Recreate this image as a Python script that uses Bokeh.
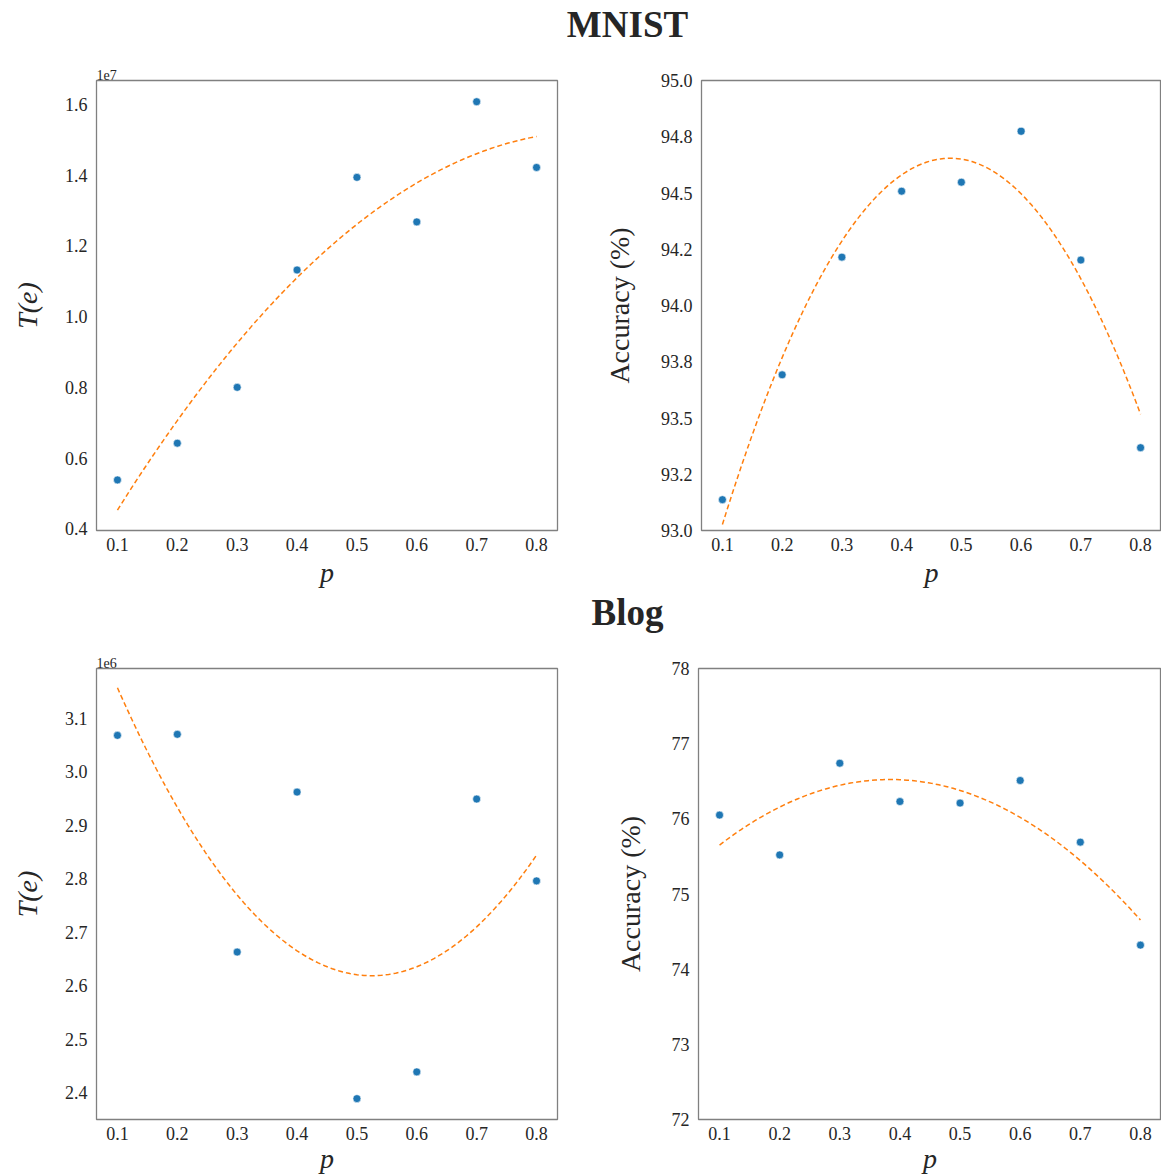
import numpy as np
from bokeh.plotting import figure
from bokeh.layouts import column, row
from bokeh.models import Label, FixedTicker, Range1d, CustomJSTickFormatter
from bokeh.embed import file_html
from bokeh.resources import INLINE

# ---------------- data ----------------
p_values = [0.1, 0.2, 0.3, 0.4, 0.5, 0.6, 0.7, 0.8]
x_ticks = [0.1, 0.2, 0.3, 0.4, 0.5, 0.6, 0.7, 0.8]

mnist_te = [5.38e6, 6.42e6, 8.00e6, 11.32e6, 13.94e6, 12.68e6, 16.08e6, 14.22e6]
mnist_acc = [93.137, 93.692, 94.215, 94.508, 94.548, 94.774, 94.202, 93.368]
blog_te = [3.068e6, 3.070e6, 2.663e6, 2.962e6, 2.389e6, 2.439e6, 2.949e6, 2.796e6]
blog_acc = [76.05, 75.52, 76.74, 76.23, 76.21, 76.51, 75.69, 74.32]

mnist_te_ticks = [4e6, 6e6, 8e6, 10e6, 12e6, 14e6, 16e6]
mnist_acc_ticks = [93.0, 93.25, 93.5, 93.75, 94.0, 94.25, 94.5, 94.75, 95.0]
mnist_acc_labels = ["93.0", "93.2", "93.5", "93.8", "94.0", "94.2", "94.5", "94.8", "95.0"]
blog_te_ticks = [2.4e6, 2.5e6, 2.6e6, 2.7e6, 2.8e6, 2.9e6, 3.0e6, 3.1e6]
blog_acc_ticks = [72, 73, 74, 75, 76, 77, 78]

SERIF = "Liberation Serif"
TXT = "#262626"
BLUE = "#1f77b4"
ORANGE = "#ff7f0e"
FRAME = "#808080"


def make_plot(y, yrange, yticks, ylabel, left_border, right_border, top, bottom,
              frame_w, frame_h, labels=None, scale=None, label_standoff=18,
              xlabel_standoff=3):
    kw = {}
    if scale is not None:
        kw["title"] = "1e%d" % int(round(np.log10(scale)))
    p = figure(width=left_border + frame_w + right_border,
               height=top + frame_h + bottom,
               x_range=Range1d(0.065, 0.835), y_range=Range1d(*yrange),
               toolbar_location=None, output_backend="svg",
               min_border_left=left_border, min_border_right=right_border,
               min_border_top=top, min_border_bottom=bottom, **kw)
    p.grid.visible = False
    p.outline_line_color = FRAME
    p.outline_line_width = 1.3
    for ax in (p.xaxis[0], p.yaxis[0]):
        ax.axis_line_color = None
        ax.major_tick_line_color = None
        ax.minor_tick_line_color = None
        ax.major_tick_out = 0
        ax.major_tick_in = 0
        ax.major_label_text_font = SERIF
        ax.major_label_text_font_size = "18px"
        ax.major_label_text_color = TXT
        ax.axis_label_text_font = SERIF
        ax.axis_label_text_color = TXT
        ax.axis_label_text_font_size = "28px"
    p.xaxis.ticker = FixedTicker(ticks=x_ticks)
    p.xaxis.major_label_standoff = 7
    p.xaxis.axis_label = "p"
    p.xaxis.axis_label_text_font_style = "italic"
    p.xaxis.axis_label_standoff = xlabel_standoff
    p.yaxis.ticker = FixedTicker(ticks=yticks)
    p.yaxis.major_label_standoff = 9
    p.yaxis.axis_label = ylabel
    p.yaxis.axis_label_standoff = label_standoff
    if ylabel == "T(e)":
        p.yaxis.axis_label_text_font_style = "italic"
    else:
        p.yaxis.axis_label_text_font_style = "normal"
    if labels is not None:
        p.yaxis.major_label_overrides = {t: l for t, l in zip(yticks, labels)}
    if scale is not None:
        p.yaxis.formatter = CustomJSTickFormatter(
            code="return (tick / %g).toFixed(1);" % scale)
        p.title.text_font = SERIF
        p.title.text_font_size = "14px"
        p.title.text_font_style = "normal"
        p.title.text_color = TXT
        p.title.align = "left"
        p.title.offset = 0
        p.title.standoff = 1
    # quadratic fit as in the original figure
    coef = np.polyfit(p_values, y, 2)
    xs = np.linspace(min(p_values), max(p_values), 120)
    p.line(xs, np.polyval(coef, xs), line_color=ORANGE, line_width=1.5,
           line_dash="5 3")
    p.scatter(p_values, y, size=8, fill_color=BLUE, line_color="white",
              line_width=0.6)
    return p


def title_fig(text, height, ycenter):
    f = figure(width=1161, height=height, x_range=Range1d(0, 1161),
               y_range=Range1d(height, 0), toolbar_location=None,
               output_backend="svg", min_border=0)
    f.axis.visible = False
    f.grid.visible = False
    f.outline_line_color = None
    f.add_layout(Label(x=627, y=ycenter, text=text, text_font=SERIF,
                       text_font_style="bold", text_font_size="37px",
                       text_color=TXT, text_align="center",
                       text_baseline="middle"))
    return f


t1 = title_fig("MNIST", 60, 24)
p1 = make_plot(mnist_te, (3.95e6, 16.68e6), mnist_te_ticks, "T(e)",
               96, 43, 20, 59, 461, 451, scale=1e7, label_standoff=19)
p2 = make_plot(mnist_acc, (93.0, 95.0), mnist_acc_ticks, "Accuracy (%)",
               98, 0, 20, 59, 463, 451, labels=mnist_acc_labels, label_standoff=23)
t2 = title_fig("Blog", 58, 22)
p3 = make_plot(blog_te, (2.35e6, 3.193e6), blog_te_ticks, "T(e)",
               96, 43, 20, 56, 461, 452, scale=1e6, label_standoff=19,
               xlabel_standoff=0)
p4 = make_plot(blog_acc, (72, 78), blog_acc_ticks, "Accuracy (%)",
               98, 0, 20, 56, 463, 452, label_standoff=23, xlabel_standoff=0)

layout = column(t1, row(p1, p2), t2, row(p3, p4), spacing=0)
open("out.html", "w").write(file_html(layout, INLINE))
